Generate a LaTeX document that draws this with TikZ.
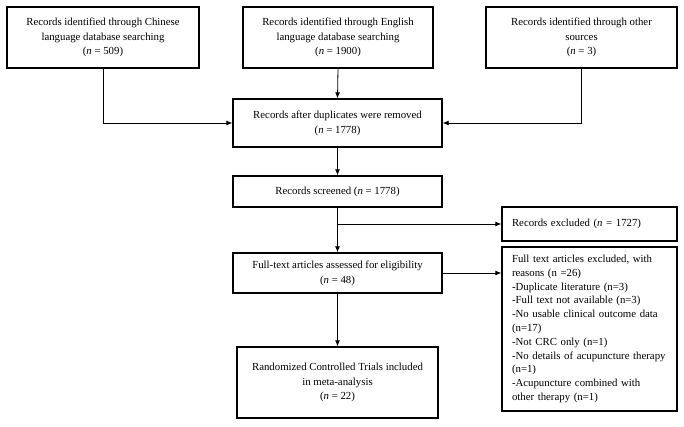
\documentclass[tikz,border=0pt]{standalone}
\usepackage{fontspec}
\setmainfont{Liberation Serif}
\usetikzlibrary{arrows.meta}
\begin{document}
\begin{tikzpicture}[x=1pt,y=-1pt,
  box/.style={draw=black, line width=1.3pt, rectangle, inner sep=0pt, align=center,
    font=\fontsize{10.8}{14.8}\selectfont},
  lbox/.style={draw=black, line width=1.3pt, rectangle, inner xsep=10pt, inner ysep=0pt,
    align=left, text width=155pt, font=\fontsize{10.8}{13.8}\selectfont},
  arr/.style={draw=black, line width=0.8pt, -{Latex[length=6pt,width=5pt]}}
]
\useasboundingbox (0,0) rectangle (684,427);
\node[box, minimum width=192pt, minimum height=61pt] (b1) at (103,37.5)
  {Records identified through Chinese\\language database searching\\(\textit{n} = 509)};
\node[box, minimum width=190pt, minimum height=61pt] (b2) at (338,37.5)
  {Records identified through English\\language database searching\\(\textit{n} = 1900)};
\node[box, minimum width=191pt, minimum height=61pt] (b3) at (581.5,37.5)
  {Records identified through other\\sources\\(\textit{n} = 3)};
\node[box, minimum width=209pt, minimum height=48pt] (b4) at (337.5,123)
  {Records after duplicates were removed\\(\textit{n} = 1778)};
\node[box, minimum width=209pt, minimum height=31pt] (b5) at (337.5,191.5)
  {Records screened (\textit{n} = 1778)};
\node[lbox, minimum width=175pt, minimum height=34pt] (b6) at (589.5,224)
  {Records excluded (\textit{n} = 1727)};
\node[box, minimum width=209pt, minimum height=40pt] (b7) at (337.5,273)
  {Full-text articles assessed for eligibility\\(\textit{n} = 48)};
\node[lbox, minimum width=175pt, minimum height=164pt] (b8) at (589.5,329)
  {Full text articles excluded, with\\reasons (n =26)\\-Duplicate literature (n=3)\\-Full text not available (n=3)\\-No usable clinical outcome data\\(n=17)\\-Not CRC only (n=1)\\-No details of acupuncture therapy\\(n=1)\\-Acupuncture combined with\\other therapy (n=1)};
\node[box, minimum width=201pt, minimum height=71pt] (b9) at (337.5,382.5)
  {Randomized Controlled Trials included\\in meta-analysis\\(\textit{n} = 22)};
\draw[arr] (b1.south) |- (b4.west);
\draw[arr] (b2.south) -- (b4.north);
\draw[arr] (b3.south) |- (b4.east);
\draw[arr] (b4.south) -- (b5.north);
\draw[arr] (b5.south) -- (b7.north);
\draw[arr] (b5.south |- b6.west) -- (b6.west);
\draw[arr] (b7.east) -- (b7.east -| b8.west);
\draw[arr] (b7.south) -- (b9.north);
\end{tikzpicture}
\end{document}
